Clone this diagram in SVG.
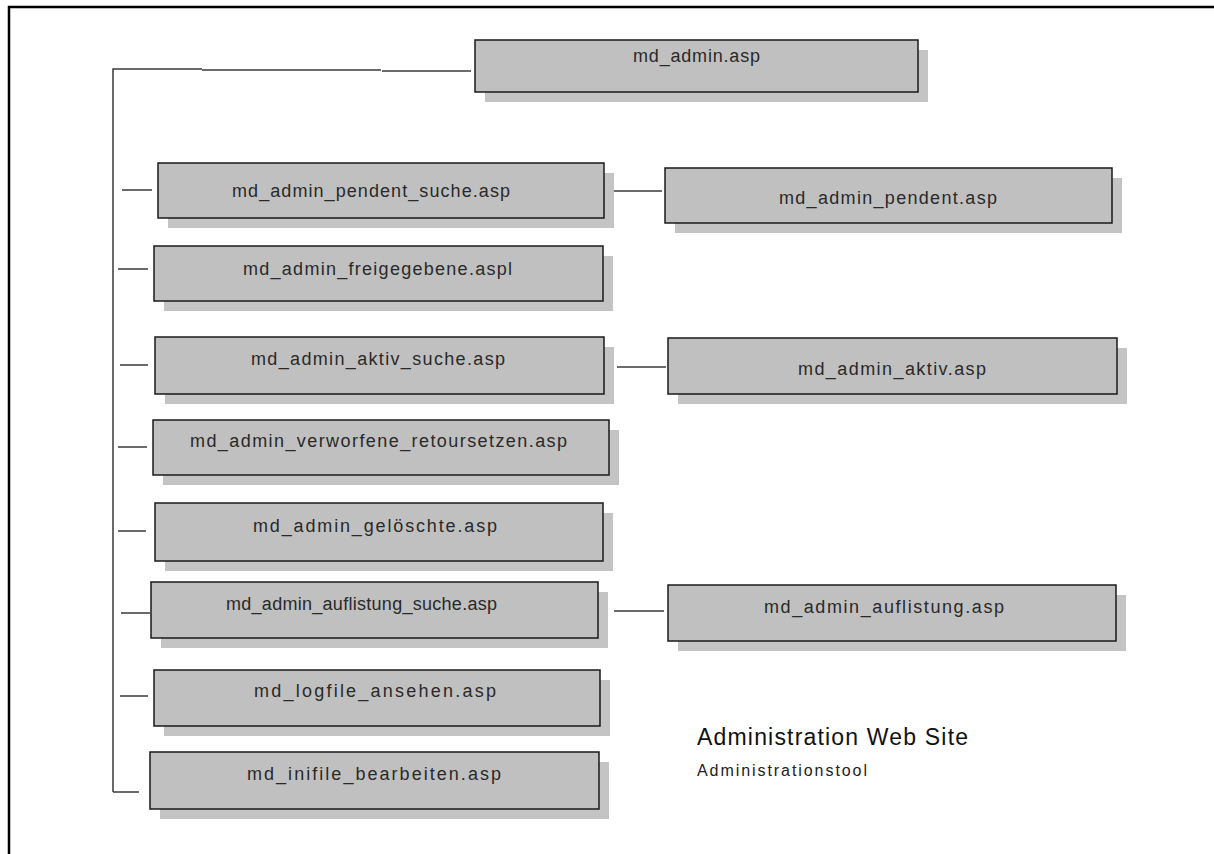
<svg xmlns="http://www.w3.org/2000/svg" width="1214" height="854" viewBox="0 0 1214 854">
  <style>
    .shadow { fill: #c4c4c4; stroke: none; }
    .box { fill: #c0c0c0; stroke: #1a1a1a; stroke-width: 1.5; }
    .lbl { font-family: "Liberation Sans", Arial, sans-serif; font-size: 18px; fill: #2a2a2a; }
    .wire { stroke: #3a3a3a; stroke-width: 1.5; fill: none; }
    .frame { stroke: #000; stroke-width: 2.5; fill: none; }
    .title { font-family: "Liberation Sans", Arial, sans-serif; font-size: 23px; fill: #111; }
    .sub { font-family: "Liberation Sans", Arial, sans-serif; font-size: 16px; fill: #222; }
  </style>

  <rect width="1214" height="854" fill="#ffffff"/>
  <!-- page frame -->
  <path class="frame" d="M9,854 V7 H1214"/>

  <!-- connectors -->
  <g id="connectors">
    <path class="wire" d="M113,792 V69 H202"/>
    <path class="wire" d="M202,70 H381"/>
    <path class="wire" d="M382,71 H471"/>
    <path class="wire" d="M113,792 H139"/>
    <path class="wire" d="M122,190 H152"/>
    <path class="wire" d="M118,269 H148"/>
    <path class="wire" d="M120,365 H148"/>
    <path class="wire" d="M118,447 H147"/>
    <path class="wire" d="M118,531 H146"/>
    <path class="wire" d="M121,613 H150"/>
    <path class="wire" d="M120,696 H148"/>
    <path class="wire" d="M612,191 H662"/>
    <path class="wire" d="M617,367 H666"/>
    <path class="wire" d="M614,611 H664"/>
  </g>

  <g id="md_admin">
    <rect class="shadow" x="485" y="50" width="443" height="52"/>
    <rect class="box" x="475" y="40" width="443" height="52"/>
    <text class="lbl" x="633" y="62" textLength="127" lengthAdjust="spacing">md_admin.asp</text>
  </g>

  <g id="md_admin_pendent_suche">
    <rect class="shadow" x="168" y="173" width="446" height="55"/>
    <rect class="box" x="158" y="163" width="446" height="55"/>
    <text class="lbl" x="232" y="197" textLength="278" lengthAdjust="spacing">md_admin_pendent_suche.asp</text>
  </g>

  <g id="md_admin_pendent">
    <rect class="shadow" x="675" y="178" width="447" height="55"/>
    <rect class="box" x="665" y="168" width="447" height="55"/>
    <text class="lbl" x="779" y="204" textLength="218" lengthAdjust="spacing">md_admin_pendent.asp</text>
  </g>

  <g id="md_admin_freigegebene">
    <rect class="shadow" x="164" y="256" width="449" height="55"/>
    <rect class="box" x="154" y="246" width="449" height="55"/>
    <text class="lbl" x="243" y="275" textLength="269" lengthAdjust="spacing">md_admin_freigegebene.aspl</text>
  </g>

  <g id="md_admin_aktiv_suche">
    <rect class="shadow" x="165" y="347" width="449" height="57"/>
    <rect class="box" x="155" y="337" width="449" height="57"/>
    <text class="lbl" x="251" y="365" textLength="254" lengthAdjust="spacing">md_admin_aktiv_suche.asp</text>
  </g>

  <g id="md_admin_aktiv">
    <rect class="shadow" x="678" y="348" width="449" height="56"/>
    <rect class="box" x="668" y="338" width="449" height="56"/>
    <text class="lbl" x="798" y="375" textLength="188" lengthAdjust="spacing">md_admin_aktiv.asp</text>
  </g>

  <g id="md_admin_verworfene_retoursetzen">
    <rect class="shadow" x="163" y="430" width="456" height="55"/>
    <rect class="box" x="153" y="420" width="456" height="55"/>
    <text class="lbl" x="190" y="447" textLength="377" lengthAdjust="spacing">md_admin_verworfene_retoursetzen.asp</text>
  </g>

  <g id="md_admin_geloeschte">
    <rect class="shadow" x="165" y="513" width="448" height="58"/>
    <rect class="box" x="155" y="503" width="448" height="58"/>
    <text class="lbl" x="253" y="532" textLength="244" lengthAdjust="spacing">md_admin_gelöschte.asp</text>
  </g>

  <g id="md_admin_auflistung_suche">
    <rect class="shadow" x="161" y="592" width="447" height="56"/>
    <rect class="box" x="151" y="582" width="447" height="56"/>
    <text class="lbl" x="226" y="610" textLength="271" lengthAdjust="spacing">md_admin_auflistung_suche.asp</text>
  </g>

  <g id="md_admin_auflistung">
    <rect class="shadow" x="678" y="595" width="448" height="56"/>
    <rect class="box" x="668" y="585" width="448" height="56"/>
    <text class="lbl" x="764" y="613" textLength="240" lengthAdjust="spacing">md_admin_auflistung.asp</text>
  </g>

  <g id="md_logfile_ansehen">
    <rect class="shadow" x="164" y="680" width="446" height="56"/>
    <rect class="box" x="154" y="670" width="446" height="56"/>
    <text class="lbl" x="254" y="697" textLength="242" lengthAdjust="spacing">md_logfile_ansehen.asp</text>
  </g>

  <g id="md_inifile_bearbeiten">
    <rect class="shadow" x="160" y="762" width="449" height="57"/>
    <rect class="box" x="150" y="752" width="449" height="57"/>
    <text class="lbl" x="247" y="780" textLength="254" lengthAdjust="spacing">md_inifile_bearbeiten.asp</text>
  </g>

  <g id="caption">
    <text class="title" x="697" y="745" textLength="271" lengthAdjust="spacing">Administration Web Site</text>
    <text class="sub" x="697" y="776" textLength="170" lengthAdjust="spacing">Administrationstool</text>
  </g>
</svg>
